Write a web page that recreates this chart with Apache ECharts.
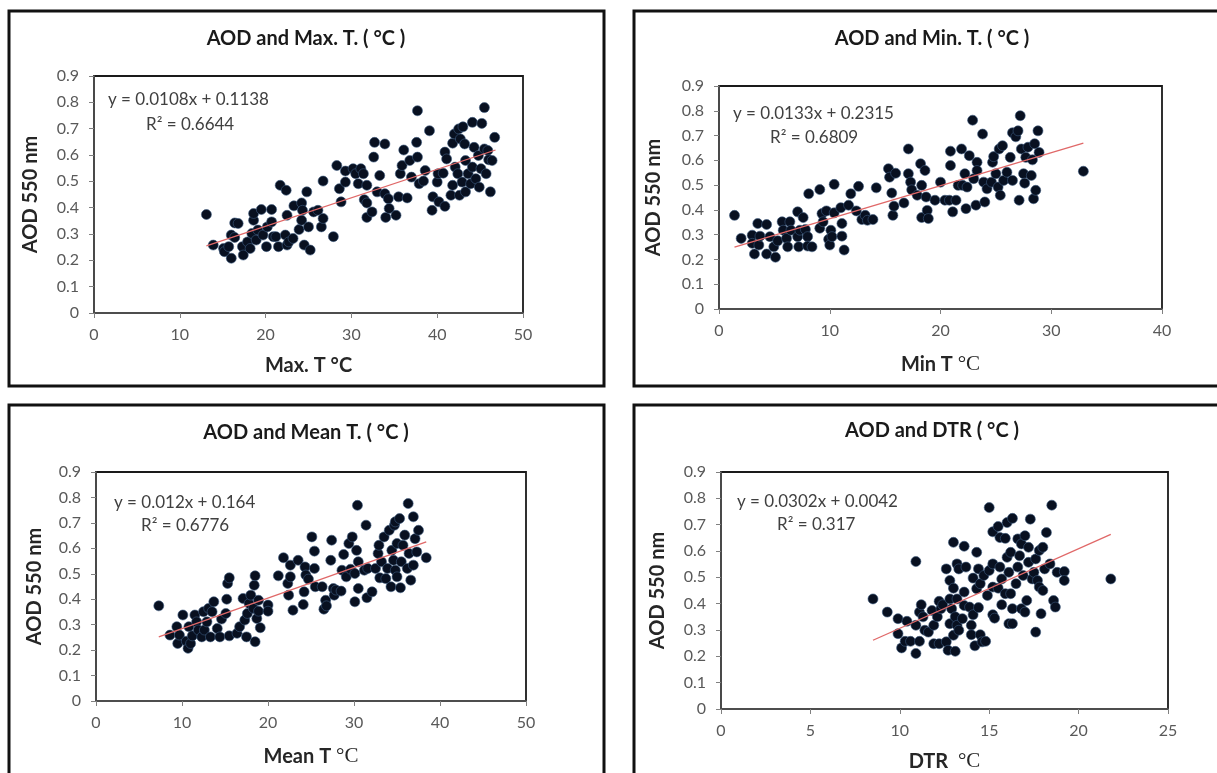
<!DOCTYPE html>
<html>
<head>
<meta charset="utf-8">
<title>AOD and temperature</title>
<script src="https://cdn.jsdelivr.net/npm/echarts@6/dist/echarts.min.js"></script>
<style>
  html, body { margin: 0; padding: 0; background: #fff; }
  #chart { width: 1217px; height: 773px; }
</style>
</head>
<body>
<div id="chart"></div>
<script>
  // AOD 550nm vs Max T (°C)
  const maxT = [
    [13.1, 0.374], [13.9, 0.258], [15.1, 0.245], [15.2, 0.233], [15.7, 0.252], [16.0, 0.208], [16.0, 0.296],
    [16.4, 0.342], [16.8, 0.34], [16.4, 0.287], [17.3, 0.252], [17.4, 0.22], [17.9, 0.27], [18.2, 0.245],
    [18.4, 0.302], [18.6, 0.352], [18.6, 0.378], [18.9, 0.277], [19.1, 0.315], [19.5, 0.393], [19.7, 0.296],
    [20.2, 0.327], [20.1, 0.252], [20.7, 0.393], [20.7, 0.346], [20.9, 0.29], [21.2, 0.29], [21.5, 0.252],
    [21.7, 0.485], [22.4, 0.466], [22.5, 0.371], [22.3, 0.296], [22.5, 0.258], [22.7, 0.27], [23.2, 0.283],
    [23.3, 0.407], [23.9, 0.317], [24.2, 0.418], [24.2, 0.352], [24.3, 0.39], [24.5, 0.258], [24.8, 0.46],
    [25.0, 0.327], [25.2, 0.239], [25.6, 0.384], [26.1, 0.39], [26.5, 0.327], [26.7, 0.359], [26.7, 0.501],
    [27.9, 0.29], [28.3, 0.56], [28.6, 0.472], [28.8, 0.422], [29.3, 0.497], [29.3, 0.539], [30.2, 0.548],
    [30.5, 0.529], [30.8, 0.491], [31.1, 0.548], [31.4, 0.529], [31.5, 0.43], [31.8, 0.418], [31.8, 0.485],
    [31.8, 0.363], [32.4, 0.384], [32.6, 0.592], [32.7, 0.648], [33.0, 0.46], [33.3, 0.522], [33.9, 0.642],
    [33.9, 0.453], [34.0, 0.363], [34.3, 0.434], [34.4, 0.397], [35.2, 0.371], [35.5, 0.441], [35.7, 0.529],
    [35.9, 0.56], [36.1, 0.619], [36.5, 0.437], [36.8, 0.579], [37.0, 0.516], [37.6, 0.648], [37.7, 0.592],
    [37.7, 0.768], [37.9, 0.491], [38.4, 0.501], [38.6, 0.541], [39.1, 0.692], [39.4, 0.39], [39.5, 0.441],
    [40.0, 0.497], [40.1, 0.529], [40.2, 0.422], [40.7, 0.531], [40.9, 0.405], [40.9, 0.611], [41.1, 0.585],
    [41.6, 0.447], [41.8, 0.485], [41.8, 0.645], [42.0, 0.68], [42.1, 0.554], [42.4, 0.529], [42.5, 0.699],
    [42.6, 0.447], [42.7, 0.661], [42.9, 0.497], [43.0, 0.707], [43.2, 0.642], [43.3, 0.579], [43.3, 0.46],
    [43.6, 0.529], [43.9, 0.491], [44.1, 0.724], [44.1, 0.554], [44.3, 0.629], [44.5, 0.51], [44.8, 0.598],
    [44.9, 0.478], [45.2, 0.72], [45.1, 0.548], [45.5, 0.78], [45.5, 0.623], [45.7, 0.529], [45.9, 0.617],
    [46.0, 0.582], [46.2, 0.46], [46.4, 0.579], [46.7, 0.667]
  ]
  // AOD vs Min T
  const minT = [
    [1.4, 0.378], [2.0, 0.285], [3.0, 0.298], [3.0, 0.265], [3.2, 0.222], [3.5, 0.345], [3.6, 0.258],
    [3.7, 0.294], [4.3, 0.341], [4.3, 0.222], [4.6, 0.292], [4.95, 0.251], [5.1, 0.209], [5.3, 0.275],
    [5.7, 0.352], [5.8, 0.318], [6.1, 0.285], [6.2, 0.251], [6.4, 0.352], [6.5, 0.318], [7.1, 0.392],
    [7.1, 0.292], [7.2, 0.251], [7.3, 0.318], [7.6, 0.369], [7.8, 0.321], [8.0, 0.292], [8.0, 0.254],
    [8.1, 0.465], [8.4, 0.251], [9.1, 0.482], [9.1, 0.326], [9.3, 0.385], [9.4, 0.352], [9.7, 0.396],
    [9.9, 0.281], [10.0, 0.258], [10.1, 0.318], [10.4, 0.503], [10.4, 0.388], [10.2, 0.292], [11.0, 0.409],
    [11.1, 0.345], [11.1, 0.294], [11.3, 0.238], [11.7, 0.419], [11.9, 0.465], [12.4, 0.396], [12.6, 0.495],
    [12.9, 0.361], [13.2, 0.378], [13.4, 0.358], [13.9, 0.361], [14.2, 0.489], [15.3, 0.566], [15.4, 0.532],
    [15.6, 0.468], [15.7, 0.378], [15.8, 0.415], [15.95, 0.548], [16.7, 0.428], [17.1, 0.646], [17.1, 0.546],
    [17.3, 0.512], [17.4, 0.481], [17.9, 0.459], [18.2, 0.586], [18.3, 0.499], [18.3, 0.369], [18.6, 0.559],
    [18.7, 0.452], [18.8, 0.398], [18.9, 0.365], [19.5, 0.439], [20.0, 0.512], [20.4, 0.439], [20.8, 0.439],
    [20.9, 0.579], [20.9, 0.637], [21.1, 0.392], [21.4, 0.439], [21.6, 0.499], [21.9, 0.646], [22.0, 0.499],
    [22.2, 0.546], [22.3, 0.405], [22.4, 0.492], [22.6, 0.619], [22.9, 0.762], [23.0, 0.526], [23.2, 0.419],
    [23.3, 0.592], [23.3, 0.559], [23.8, 0.706], [23.9, 0.512], [24.0, 0.432], [24.2, 0.485], [24.6, 0.512],
    [24.7, 0.592], [24.8, 0.615], [25.0, 0.546], [25.2, 0.492], [25.3, 0.646], [25.4, 0.459], [25.6, 0.659],
    [25.7, 0.519], [26.0, 0.552], [26.3, 0.612], [26.5, 0.519], [26.5, 0.711], [26.8, 0.695], [27.0, 0.719],
    [27.1, 0.439], [27.2, 0.78], [27.3, 0.646], [27.5, 0.546], [27.6, 0.508], [27.7, 0.612], [27.9, 0.653],
    [28.2, 0.539], [28.3, 0.602], [28.4, 0.445], [28.5, 0.667], [28.6, 0.479], [28.8, 0.719], [28.9, 0.632],
    [32.9, 0.556]
  ]
  // AOD vs Mean T
  const meanT = [
    [7.3, 0.374], [8.6, 0.259], [9.4, 0.292], [9.5, 0.226], [9.7, 0.259], [10.1, 0.338], [10.5, 0.235],
    [10.7, 0.207], [10.8, 0.292], [11.0, 0.226], [11.2, 0.256], [11.5, 0.338], [11.7, 0.311], [11.9, 0.279],
    [12.3, 0.252], [12.5, 0.351], [12.6, 0.279], [12.9, 0.311], [13.1, 0.364], [13.3, 0.252], [13.5, 0.351],
    [13.7, 0.39], [14.1, 0.285], [14.4, 0.252], [14.6, 0.322], [15.1, 0.344], [15.2, 0.4], [15.3, 0.462],
    [15.5, 0.484], [15.5, 0.256], [16.4, 0.266], [16.7, 0.292], [17.1, 0.403], [17.3, 0.318], [17.5, 0.252],
    [17.6, 0.344], [17.8, 0.383], [18.0, 0.416], [18.3, 0.364], [18.4, 0.455], [18.5, 0.233], [18.5, 0.492],
    [18.7, 0.324], [18.9, 0.353], [18.9, 0.396], [19.1, 0.288], [20.0, 0.377], [20.0, 0.353], [21.2, 0.492],
    [21.8, 0.563], [22.3, 0.462], [22.4, 0.416], [22.6, 0.488], [22.6, 0.534], [22.9, 0.357], [23.5, 0.553],
    [24.1, 0.379], [24.2, 0.429], [24.3, 0.527], [24.4, 0.495], [24.7, 0.479], [25.1, 0.645], [25.4, 0.521],
    [25.4, 0.589], [25.5, 0.449], [26.3, 0.449], [26.5, 0.361], [26.7, 0.396], [26.8, 0.374], [27.3, 0.553],
    [27.4, 0.632], [27.6, 0.442], [27.7, 0.416], [27.9, 0.436], [28.5, 0.432], [28.6, 0.514], [28.8, 0.576],
    [29.1, 0.488], [29.4, 0.619], [29.6, 0.518], [29.8, 0.645], [30.1, 0.39], [30.1, 0.501], [30.3, 0.592],
    [30.4, 0.769], [30.5, 0.547], [30.5, 0.442], [31.2, 0.514], [31.4, 0.691], [31.5, 0.406], [31.6, 0.521],
    [32.1, 0.429], [32.5, 0.521], [32.8, 0.58], [32.9, 0.612], [33.0, 0.484], [33.2, 0.547], [33.5, 0.645],
    [33.7, 0.481], [33.9, 0.521], [34.1, 0.671], [34.3, 0.449], [34.4, 0.592], [34.6, 0.553], [34.7, 0.691],
    [34.8, 0.704], [34.8, 0.514], [35.0, 0.619], [35.0, 0.488], [35.3, 0.717], [35.4, 0.445], [35.5, 0.547],
    [35.7, 0.612], [35.9, 0.652], [36.2, 0.521], [36.3, 0.776], [36.4, 0.58], [36.6, 0.475], [36.9, 0.724],
    [36.9, 0.534], [37.1, 0.638], [37.3, 0.586], [37.5, 0.671], [38.4, 0.563]
  ]
  // AOD vs DTR
  const dtr = [
    [8.5, 0.418], [9.3, 0.368], [9.9, 0.343], [9.9, 0.286], [10.1, 0.232], [10.3, 0.257], [10.4, 0.333],
    [10.6, 0.257], [10.9, 0.56], [10.9, 0.211], [10.9, 0.318], [11.1, 0.257], [11.1, 0.368], [11.2, 0.396],
    [11.3, 0.35], [11.4, 0.299], [11.6, 0.292], [11.8, 0.374], [11.9, 0.318], [11.9, 0.248], [12.1, 0.35],
    [12.2, 0.248], [12.2, 0.409], [12.3, 0.381], [12.4, 0.396], [12.6, 0.532], [12.6, 0.255], [12.7, 0.223],
    [12.8, 0.488], [12.8, 0.418], [12.8, 0.324], [12.9, 0.381], [13.0, 0.633], [13.0, 0.459], [13.0, 0.28],
    [13.1, 0.219], [13.1, 0.35], [13.2, 0.318], [13.2, 0.551], [13.2, 0.418], [13.3, 0.299], [13.3, 0.532],
    [13.5, 0.343], [13.6, 0.444], [13.6, 0.393], [13.6, 0.618], [13.7, 0.539], [13.9, 0.387], [14.0, 0.318],
    [14.0, 0.282], [14.1, 0.497], [14.1, 0.358], [14.2, 0.24], [14.3, 0.457], [14.3, 0.595], [14.4, 0.532],
    [14.4, 0.385], [14.5, 0.476], [14.5, 0.282], [14.6, 0.255], [14.7, 0.507], [14.8, 0.257], [14.9, 0.431],
    [15.0, 0.765], [15.0, 0.526], [15.2, 0.463], [15.2, 0.673], [15.2, 0.551], [15.2, 0.358], [15.3, 0.345],
    [15.5, 0.693], [15.5, 0.459], [15.6, 0.539], [15.6, 0.651], [15.7, 0.494], [15.7, 0.396], [15.9, 0.438],
    [15.9, 0.648], [16.0, 0.576], [16.0, 0.708], [16.1, 0.519], [16.1, 0.324], [16.2, 0.438], [16.2, 0.595],
    [16.3, 0.724], [16.3, 0.324], [16.3, 0.381], [16.5, 0.476], [16.6, 0.646], [16.6, 0.539], [16.7, 0.582],
    [16.8, 0.381], [16.8, 0.627], [16.9, 0.507], [17.0, 0.658], [17.0, 0.368], [17.1, 0.412], [17.2, 0.614],
    [17.2, 0.557], [17.3, 0.721], [17.4, 0.494], [17.5, 0.519], [17.6, 0.57], [17.6, 0.292], [17.7, 0.488],
    [17.8, 0.602], [17.8, 0.463], [17.9, 0.362], [18.0, 0.45], [18.0, 0.614], [18.1, 0.532], [18.2, 0.67],
    [18.4, 0.551], [18.5, 0.774], [18.6, 0.412], [18.7, 0.387], [18.8, 0.519], [19.2, 0.522], [19.2, 0.488],
    [21.8, 0.494]
  ]

  // trend line ends
  const trendMax = [[13.1, 0.255], [46.8, 0.619]]
  const trendMin = [[1.4, 0.250], [32.9, 0.669]]
  const trendMean = [[7.3, 0.252], [38.4, 0.625]]
  const trendDtr = [[8.5, 0.261], [21.8, 0.663]]

  const titles = ['AOD and Max. T. ( °C )', 'AOD and Min. T. ( °C )', 'AOD and Mean T. ( °C )', 'AOD and DTR ( °C )']
  const equations = ['y = 0.0108x + 0.1138', 'y = 0.0133x + 0.2315', 'y = 0.012x + 0.164', 'y = 0.0302x + 0.0042']
  const rSquared = ['R² = 0.6644', 'R² = 0.6809', 'R² = 0.6776', 'R² = 0.317']
  const xNames = ['Max. T ', 'Min T ', 'Mean T ', 'DTR  ']
  const xMax = [50, 40, 50, 25]
  const xStep = [10, 10, 10, 5]

  const FONT = 'Lato, "Open Sans", sans-serif'

  // panel boxes and plot areas (px)
  const panels = [
    { box: [9, 11, 595, 375], grid: [94, 76, 429, 237], title: [306, 39], eq: [108, 100], r2: [146, 125], yGap: 53, xGap: 43 },
    { box: [634, 11, 600, 375], grid: [719, 86, 443, 223], title: [932, 39], eq: [733, 114], r2: [770, 138], yGap: 55, xGap: 45 },
    { box: [9, 405, 595, 400], grid: [96, 472, 430, 229], title: [306, 433], eq: [114, 503], r2: [141, 526], yGap: 51, xGap: 45 },
    { box: [634, 405, 600, 400], grid: [721, 472, 447, 237], title: [932, 431], eq: [737, 502], r2: [777, 525], yGap: 53, xGap: 42 }
  ]
  const datasets = [maxT, minT, meanT, dtr]
  const trends = [trendMax, trendMin, trendMean, trendDtr]

  const chart = echarts.init(document.getElementById('chart'))

  const grid = []
  const xAxis = []
  const yAxis = []
  const series = []
  const graphic = []

  panels.forEach((p, i) => {
    grid.push({
      left: p.grid[0], top: p.grid[1], width: p.grid[2], height: p.grid[3],
      show: true, borderColor: '#1a1a1a', borderWidth: 1.8, backgroundColor: '#fff'
    })
    xAxis.push({
      gridIndex: i,
      type: 'value',
      min: 0,
      max: xMax[i],
      interval: xStep[i],
      name: i === 0 ? '{a|Max. T °C}' : '{a|' + xNames[i] + '}{b|°C}',
      nameLocation: 'middle',
      nameGap: p.xGap,
      nameTextStyle: {
        rich: {
          a: { fontFamily: FONT, fontWeight: 'bold', fontSize: 20, color: '#262626' },
          b: { fontFamily: '"Liberation Serif", serif', fontSize: 21, color: '#262626' }
        }
      },
      splitLine: { show: false },
      axisLine: { onZero: false, lineStyle: { color: '#4d4d4d', width: 1.8 } },
      axisTick: { show: true, length: 5, lineStyle: { color: '#808080' } },
      axisLabel: { color: '#595959', fontFamily: FONT, fontSize: 16, margin: 14 }
    })
    yAxis.push({
      gridIndex: i,
      type: 'value',
      min: 0,
      max: 0.9,
      interval: 0.1,
      name: 'AOD 550 nm',
      nameLocation: 'middle',
      nameGap: p.yGap,
      nameTextStyle: { fontFamily: FONT, fontWeight: 'bold', fontSize: 20, color: '#262626' },
      splitLine: { show: false },
      axisLine: { onZero: false, lineStyle: { color: '#4d4d4d', width: 1.8 } },
      axisTick: { show: true, length: 5, lineStyle: { color: '#808080' } },
      axisLabel: { color: '#595959', fontFamily: FONT, fontSize: 16, margin: 15 }
    })
    series.push({
      type: 'scatter',
      xAxisIndex: i,
      yAxisIndex: i,
      data: datasets[i],
      symbolSize: 10,
      itemStyle: { color: '#081020', borderColor: '#3d5a80', borderWidth: 0.6, opacity: 1 },
      z: 3
    })
    series.push({
      type: 'line',
      xAxisIndex: i,
      yAxisIndex: i,
      data: trends[i],
      symbol: 'none',
      lineStyle: { color: '#e06868', width: 1.3 },
      z: 4,
      silent: true
    })

    graphic.push({
      type: 'rect',
      shape: { x: p.box[0], y: p.box[1], width: p.box[2], height: p.box[3] },
      style: { fill: 'none', stroke: '#111', lineWidth: 3 },
      z: 100
    })
    graphic.push({
      type: 'text', x: p.title[0], y: p.title[1], z: 100,
      style: {
        text: titles[i], fill: '#1a1a1a', font: 'bold 20px ' + FONT,
        textAlign: 'center', textVerticalAlign: 'middle'
      }
    })
    graphic.push({
      type: 'text', x: p.eq[0], y: p.eq[1], z: 100,
      style: {
        text: equations[i], fill: '#404040', font: '17px ' + FONT,
        textAlign: 'left', textVerticalAlign: 'middle'
      }
    })
    graphic.push({
      type: 'text', x: p.r2[0], y: p.r2[1], z: 100,
      style: {
        text: rSquared[i], fill: '#404040', font: '17px ' + FONT,
        textAlign: 'left', textVerticalAlign: 'middle'
      }
    })
  })

  chart.setOption({
    animation: false,
    backgroundColor: '#fff',
    grid: grid,
    xAxis: xAxis,
    yAxis: yAxis,
    series: series,
    graphic: graphic
  })
</script>
</body>
</html>
